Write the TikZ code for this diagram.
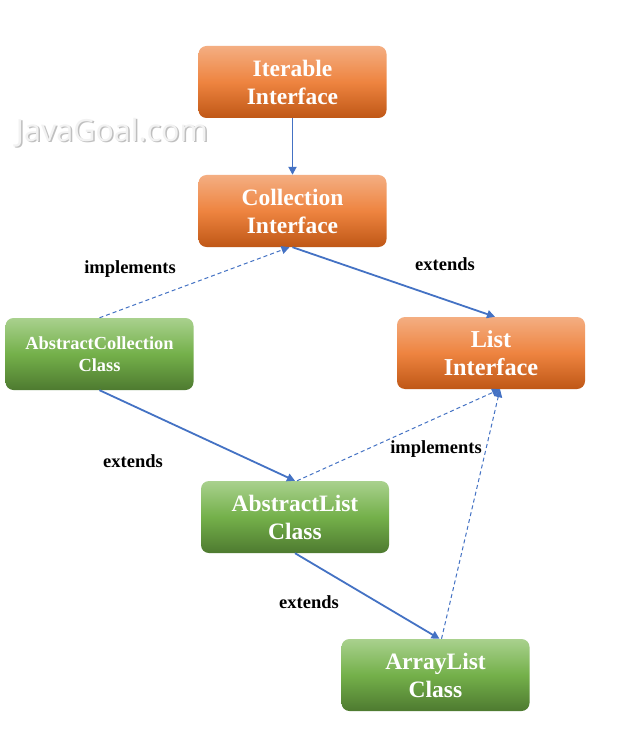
\documentclass[tikz,border=0pt]{standalone}
\usepackage{fontspec}
\setmainfont{Liberation Serif}
\newfontfamily\wmfont{Open Sans}
\usetikzlibrary{arrows.meta,calc}
\definecolor{arrowblue}{HTML}{4472C4}
\definecolor{orTop}{HTML}{F4AE82}
\definecolor{orMid}{HTML}{EE8440}
\definecolor{orBot}{HTML}{BF5716}
\definecolor{grTop}{HTML}{A9D18E}
\definecolor{grMid}{HTML}{74B04A}
\definecolor{grBot}{HTML}{4E7A30}
\tikzset{
  box/.style={rounded corners=8pt, minimum width=188pt, minimum height=72pt,
    inner sep=0pt, align=center, text=white, font=\bfseries\fontsize{23.5}{28}\selectfont},
  ibox/.style={box, top color=orTop, bottom color=orBot, middle color=orMid},
  cbox/.style={box, top color=grTop, bottom color=grBot, middle color=grMid},
  solidarr/.style={draw=arrowblue, line width=1.8pt, -{Triangle[length=8pt,width=8pt]}},
  dasharr/.style={draw=arrowblue, line width=1pt, dash pattern=on 4pt off 3pt, -{Triangle[length=8pt,width=8pt]}},
  lbl/.style={font=\bfseries\fontsize{18.5}{20}\selectfont, text=black}
}
\begin{document}
\begin{tikzpicture}[x=1pt,y=-1pt]
\useasboundingbox[fill=white] (0,0) rectangle (618,735);
% watermark
\node[anchor=center, text=black!25, font=\wmfont\fontsize{30.5}{32}\selectfont] (wmshadow) at (113.5,134) {JavaGoal.com};
\node[anchor=center, text=black!5, font=\wmfont\fontsize{30.5}{32}\selectfont] (wm) at (112,132.5) {JavaGoal.com};
% boxes
\node[ibox] (iter) at (292.5,82) {Iterable\\Interface};
\node[ibox] (coll) at (292.5,211) {Collection\\Interface};
\node[cbox, font=\bfseries\fontsize{18.4}{22}\selectfont] (ac) at (99.5,354) {AbstractCollection\\Class};
\node[ibox, font=\bfseries\fontsize{24.3}{28}\selectfont] (list) at (491,353) {List\\Interface};
\node[cbox] (al) at (295,517) {AbstractList\\Class};
\node[cbox] (arr) at (435.5,675) {ArrayList\\Class};
% connectors
\draw[solidarr] (iter.south) -- (coll.north);
\draw[solidarr] (coll.south) -- ([xshift=4pt]list.north);
\draw[dasharr] (ac.north) -- ([xshift=-3pt]coll.south);
\draw[solidarr] (ac.south) -- (al.north);
\draw[dasharr] ([xshift=2pt]al.north) -- ([xshift=9pt]list.south);
\draw[solidarr] (al.south) -- ([xshift=4pt]arr.north);
\draw[dasharr] ([xshift=6pt]arr.north) -- ([xshift=9pt]list.south);
% labels
\node[lbl] (l1) at (130,269) {implements};
\node[lbl] (l2) at (445,264) {extends};
\node[lbl] (l3) at (133,461) {extends};
\node[lbl] (l4) at (436,449) {implements};
\node[lbl] (l5) at (309,602) {extends};
\end{tikzpicture}
\end{document}
